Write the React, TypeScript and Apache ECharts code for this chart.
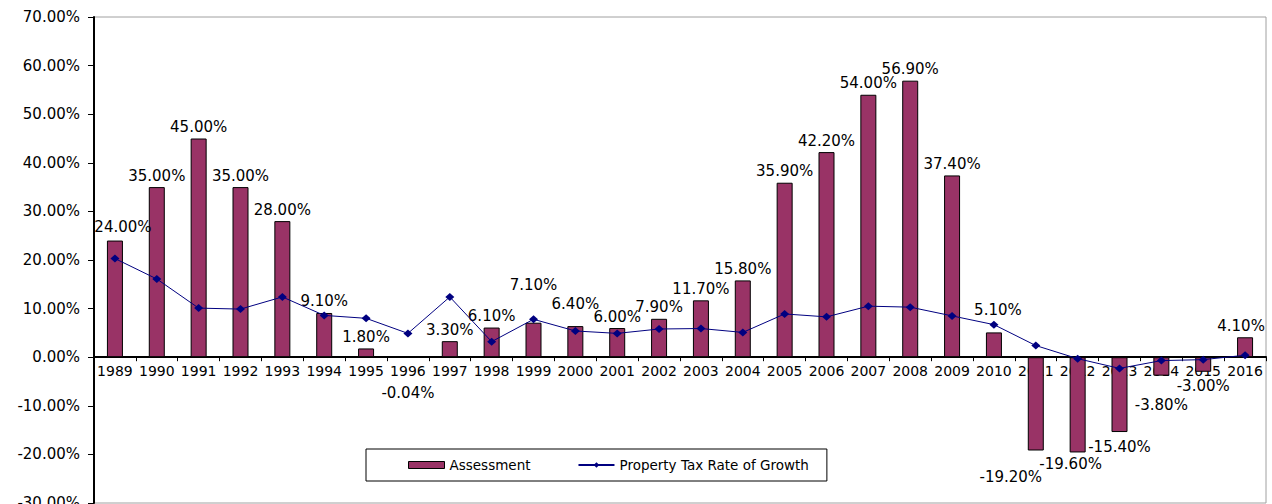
import React, { useEffect, useRef } from 'react';
import * as echarts from 'echarts';

const years = [
  '1989', '1990', '1991', '1992', '1993', '1994', '1995', '1996', '1997', '1998',
  '1999', '2000', '2001', '2002', '2003', '2004', '2005', '2006', '2007', '2008',
  '2009', '2010', '2011', '2012', '2013', '2014', '2015', '2016',
];

const assessment = [
  24.0, 35.0, 45.0, 35.0, 28.0, 9.1, 1.8, -0.04, 3.3, 6.1,
  7.1, 6.4, 6.0, 7.9, 11.7, 15.8, 35.9, 42.2, 54.0, 56.9,
  37.4, 5.1, -19.2, -19.6, -15.4, -3.8, -3.0, 4.1,
];

const taxRateGrowth = [
  20.3, 16.1, 10.1, 9.9, 12.4, 8.6, 8.0, 4.9, 12.4, 3.2,
  7.8, 5.4, 4.9, 5.8, 5.9, 5.1, 8.9, 8.3, 10.5, 10.3,
  8.5, 6.7, 2.4, -0.3, -2.3, -0.7, -0.5, 0.4,
];

const yMin = -30;
const yMax = 70;
const yStep = 10;

const seriesNames = ['Assessment', 'Property Tax Rate of Growth'];

// label nudges (style only), keyed by year
const labelNudge: Record<string, [number, number]> = {
  '1989': [8, -2],
  '1996': [0, 24],
  '1999': [0, -26],
  '2000': [0, -11],
  '2010': [4, -11],
  '2011': [-25, 15],
  '2012': [-7, 0],
  '2013': [0, 3],
  '2014': [0, 18],
  '2015': [0, 3],
  '2016': [-4, 0],
};

const FONT = 'DejaVu Sans';
const W = 1272;
const H = 504;
const GRID = { left: 94, right: 6, top: 17, bottom: 1 };

export default function App() {
  const ref = useRef<HTMLDivElement>(null);

  useEffect(() => {
    document.body.style.margin = '0';
    if (!ref.current) return;
    const chart = echarts.init(ref.current, undefined, { renderer: 'svg' });

    const barData = assessment.map((v, i) => ({
      value: v,
      label: {
        position: v < 0 ? 'bottom' : 'top',
        offset: labelNudge[years[i]] || [0, 0],
      },
    }));

    // move the category axis up to the value 0 of the value axis
    const gridH = H - GRID.top - GRID.bottom;
    const zeroFromBottom = ((0 - yMin) / (yMax - yMin)) * gridH;

    chart.setOption({
      animation: false,
      backgroundColor: '#fff',
      grid: {
        ...GRID,
        containLabel: false,
        outerBoundsMode: 'none',
        show: true,
        borderColor: '#a0a0a0',
        borderWidth: 1,
      },
      legend: {
        left: 366,
        top: 449,
        orient: 'horizontal',
        padding: [9, 18, 9, 42],
        itemGap: 47,
        itemWidth: 36,
        itemHeight: 7,
        borderColor: '#000',
        borderWidth: 1,
        borderRadius: 0,
        backgroundColor: '#fff',
        textStyle: { fontFamily: FONT, fontSize: 13.5, color: '#000' },
        data: [
          { name: seriesNames[0], icon: 'rect', itemStyle: { color: '#993366', borderColor: '#000', borderWidth: 1 } },
          { name: seriesNames[1] },
        ],
      },
      xAxis: {
        type: 'category',
        data: years,
        boundaryGap: true,
        position: 'bottom',
        offset: -zeroFromBottom,
        axisLine: { show: true, onZero: false, lineStyle: { color: '#000', width: 2 } },
        axisTick: { show: true, length: 4, interval: 0, lineStyle: { color: '#000' } },
        axisLabel: { interval: 0, fontFamily: FONT, fontSize: 14, color: '#000', margin: 7 },
        splitLine: { show: false },
      },
      yAxis: {
        type: 'value',
        min: yMin,
        max: yMax,
        interval: yStep,
        axisLine: { show: true, lineStyle: { color: '#000', width: 2 } },
        axisTick: { show: true, length: 6, lineStyle: { color: '#000' } },
        axisLabel: {
          fontFamily: FONT,
          fontSize: 15,
          color: '#000',
          margin: 14,
          formatter: (v: number) => v.toFixed(2) + '%',
        },
        splitLine: { show: false },
      },
      series: [
        {
          name: seriesNames[0],
          type: 'bar',
          data: barData,
          barWidth: 16,
          itemStyle: { color: '#993366', borderColor: '#000', borderWidth: 1 },
          label: {
            show: true,
            distance: 4,
            fontFamily: FONT,
            fontSize: 15,
            color: '#000',
            formatter: (p: any) => Number(p.value).toFixed(2) + '%',
          },
        },
        {
          name: seriesNames[1],
          type: 'line',
          data: taxRateGrowth,
          symbol: 'diamond',
          symbolSize: [9, 8],
          lineStyle: { color: '#000080', width: 1 },
          itemStyle: { color: '#000080' },
        },
      ],
    });

    return () => chart.dispose();
  }, []);

  return <div ref={ref} style={{ width: W, height: H }} />;
}
